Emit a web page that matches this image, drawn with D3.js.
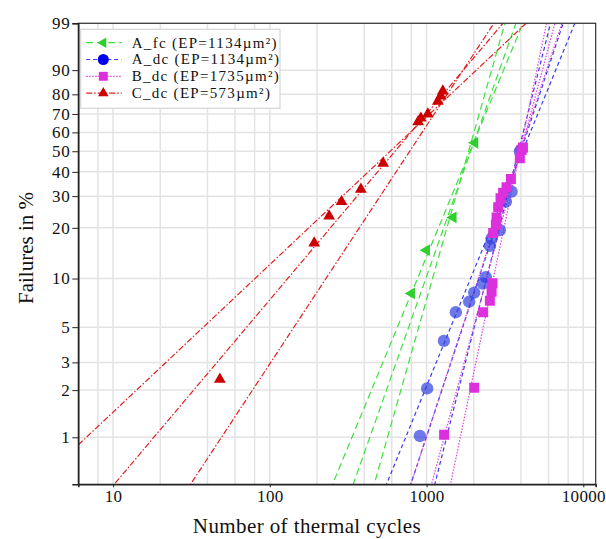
<!DOCTYPE html>
<html>
<head>
<meta charset="utf-8">
<script src="https://cdn.jsdelivr.net/npm/d3@7"></script>
<style>
  body { margin: 0; background: #fff; }
  text { font-family: "Liberation Serif", "Times New Roman", serif; }
</style>
</head>
<body>
<div id="chart"></div>
<script>
// ticks and grid
var yTicks = [1, 2, 3, 5, 10, 20, 30, 40, 50, 60, 70, 80, 90, 99];
var xTicks = [10, 100, 1000, 10000];
var xGrid = [8, 10, 20, 40, 60, 80, 100, 200, 400, 600, 800, 1000, 2000, 4000, 6000, 8000, 10000];

// series labels
var seriesNames = ["A_fc (EP=1134µm²)", "A_dc (EP=1134µm²)", "B_dc (EP=1735µm²)", "C_dc (EP=573µm²)"];

// measured failures (cycles, % failed)
var aFcCycles = [802, 1000, 1479, 2033];
var aFcPct    = [8.1, 14.8, 22.9, 54.4];
var aDcCycles = [906, 1009, 1290, 1537, 1870, 2013, 2287, 2390, 2535, 2600, 2937, 3208, 3487, 3937, 4036];
var aDcPct    = [1.02, 2.05, 4.1, 6.2, 7.2, 8.2, 9.3, 10.2, 15.7, 17.4, 19.4, 28, 31.7, 50, 51];
var bDcCycles = [1294, 2013, 2297, 2535, 2600, 2637, 2661, 2769, 2797, 2863, 2965, 3081, 3240, 3452, 3937, 4036, 4120];
var bDcPct    = [1.04, 2.07, 6.2, 7.3, 8.3, 9.35, 18.7, 20.8, 22.9, 26.1, 29.2, 31.3, 33.4, 36.8, 46.5, 50.6, 52];
var cDcCycles = [48, 192, 239, 287, 381, 529, 884, 920, 1019, 1180, 1234, 1270];
var cDcPct    = [2.34, 16.3, 23.3, 28, 32.6, 44, 65.7, 67.7, 69.9, 76.6, 79.1, 81.5];

// Weibull fit lines: [lower bound, fit, upper bound] shape & scale
var aFcBeta = [2.44, 2.854, 3.553],  aFcEta = [2202, 2177, 2057];
var aDcBeta = [2.466, 3.049, 4.013], aDcEta = [4754, 4505, 4224];
var bDcBeta = [3.075, 3.766, 4.837], bDcEta = [4440, 4391, 4250];
var cDcBeta = [0.9487, 1.195, 1.531], cDcEta = [862, 855, 992];

var W = 606, H = 539;
var margin = {top: 23.3, right: 10.3, bottom: 54.7, left: 78.3};

function weib(p) { return Math.log(-Math.log(1 - p / 100)); }

var x = d3.scaleLog().domain([6, 12000]).range([margin.left, W - margin.right]);
var yW = d3.scaleLinear().domain([weib(0.5), weib(99)]).range([H - margin.bottom, margin.top]);
function yP(p) { return yW(weib(p)); }

var svg = d3.select("#chart").append("svg")
    .attr("width", W)
    .attr("height", H);

svg.append("defs").append("clipPath").attr("id", "plotClip")
  .append("rect")
    .attr("x", margin.left).attr("y", margin.top)
    .attr("width", W - margin.left - margin.right)
    .attr("height", H - margin.top - margin.bottom);

/* grid */
svg.append("g").selectAll("line").data(xGrid).enter().append("line")
    .attr("x1", function(d){ return x(d); }).attr("x2", function(d){ return x(d); })
    .attr("y1", margin.top).attr("y2", H - margin.bottom)
    .attr("stroke", "#e3e3e3").attr("stroke-width", 1.5);
svg.append("g").selectAll("line").data(yTicks).enter().append("line")
    .attr("x1", margin.left).attr("x2", W - margin.right)
    .attr("y1", function(d){ return yP(d); }).attr("y2", function(d){ return yP(d); })
    .attr("stroke", "#e3e3e3").attr("stroke-width", 1.5);

/* series definitions */
var series = [
  {name: seriesNames[0], cyc: aFcCycles, pct: aFcPct, beta: aFcBeta, eta: aFcEta,
   color: "#3ee03e", mark: "#2fcf2f", dash: "7,4", sym: d3.symbolTriangle, size: 60, rot: -90, op: 1},
  {name: seriesNames[1], cyc: aDcCycles, pct: aDcPct, beta: aDcBeta, eta: aDcEta,
   color: "#3a3aee", mark: "#2f3fe0", dash: "4,3", sym: d3.symbolCircle, size: 120, rot: 0, op: 0.7},
  {name: seriesNames[2], cyc: bDcCycles, pct: bDcPct, beta: bDcBeta, eta: bDcEta,
   color: "#e040e0", mark: "#dd30dd", dash: "1.5,1.5", sym: d3.symbolSquare, size: 100, rot: 0, op: 1},
  {name: seriesNames[3], cyc: cDcCycles, pct: cDcPct, beta: cDcBeta, eta: cDcEta,
   color: "#e02020", mark: "#cc0000", dash: "6,2,1.5,2", sym: d3.symbolTriangle, size: 60, rot: 0, op: 1}
];

var line = d3.line().x(function(d){ return x(d[0]); }).y(function(d){ return yW(d[1]); });

var plot = svg.append("g").attr("clip-path", "url(#plotClip)");

series.forEach(function(s) {
  s.beta.forEach(function(b, i) {
    var pts = x.domain().map(function(t){ return [t, b * (Math.log(t) - Math.log(s.eta[i]))]; });
    plot.append("path")
        .attr("d", line(pts))
        .attr("fill", "none")
        .attr("stroke", s.color)
        .attr("stroke-width", 1.2)
        .attr("stroke-dasharray", s.dash);
  });
});

series.forEach(function(s) {
  var pts = s.cyc.map(function(c, i){ return [c, s.pct[i]]; });
  plot.append("g").selectAll("path").data(pts).enter().append("path")
      .attr("d", d3.symbol().type(s.sym).size(s.size))
      .attr("transform", function(d){ return "translate(" + x(d[0]) + "," + yP(d[1]) + ") rotate(" + s.rot + ")"; })
      .attr("fill", s.mark)
      .attr("fill-opacity", s.op);
});

/* frame */
svg.append("rect")
    .attr("x", margin.left).attr("y", margin.top)
    .attr("width", W - margin.left - margin.right)
    .attr("height", H - margin.top - margin.bottom)
    .attr("fill", "none").attr("stroke", "#333").attr("stroke-width", 1.2);

/* axes */
var yAxis = d3.axisLeft(yW)
    .tickValues(yTicks.map(weib))
    .tickFormat(function(d, i){ return yTicks[i]; })
    .tickSize(6).tickPadding(2);
var gy = svg.append("g").attr("transform", "translate(" + margin.left + ",0)").call(yAxis);
gy.select(".domain").attr("stroke", "#222").attr("stroke-width", 1.5);
gy.selectAll(".tick line").attr("stroke", "#222");
gy.selectAll(".tick text").attr("font-size", 17).attr("fill", "#111")
    .attr("letter-spacing", 0.6)
    .style("font-family", "'Liberation Serif', serif");

var xAxis = d3.axisBottom(x).tickValues(xTicks).tickFormat(d3.format("d")).tickSize(3).tickPadding(3);
var gx = svg.append("g").attr("transform", "translate(0," + (H - margin.bottom) + ")").call(xAxis);
gx.select(".domain").attr("stroke", "#222").attr("stroke-width", 1.5);
gx.selectAll(".tick line").attr("stroke", "#222");
gx.selectAll(".tick text").attr("font-size", 17).attr("fill", "#111")
    .attr("letter-spacing", 0.3)
    .style("font-family", "'Liberation Serif', serif");

/* titles */
svg.append("text")
    .text("Number of thermal cycles")
    .attr("x", 307).attr("y", 533)
    .attr("text-anchor", "middle")
    .attr("font-size", 21).attr("letter-spacing", 0.4).attr("fill", "#111");
svg.append("text")
    .text("Failures in %")
    .attr("transform", "translate(33,248) rotate(-90)")
    .attr("text-anchor", "middle")
    .attr("font-size", 21).attr("fill", "#111");

/* legend */
var leg = svg.append("g").attr("transform", "translate(80.7,29.3)");
leg.append("rect").attr("width", 199.3).attr("height", 79)
    .attr("fill", "#fff").attr("stroke", "#d5d5d5").attr("stroke-width", 1.2);
series.forEach(function(s, i) {
  var cy = 13.4 + i * 16.8;
  leg.append("line").attr("x1", 5.5).attr("x2", 41).attr("y1", cy).attr("y2", cy)
      .attr("stroke", s.color).attr("stroke-width", 1.2).attr("stroke-dasharray", s.dash);
  leg.append("path")
      .attr("d", d3.symbol().type(s.sym).size(s.size * 0.8))
      .attr("transform", "translate(22.6," + cy + ") rotate(" + s.rot + ")")
      .attr("fill", i === 1 ? "#0000ee" : s.mark);
  leg.append("text").text(s.name)
      .attr("x", 51).attr("y", cy + 5)
      .attr("font-size", 15).attr("letter-spacing", 1.3).attr("fill", "#111");
});
</script>
</body>
</html>
